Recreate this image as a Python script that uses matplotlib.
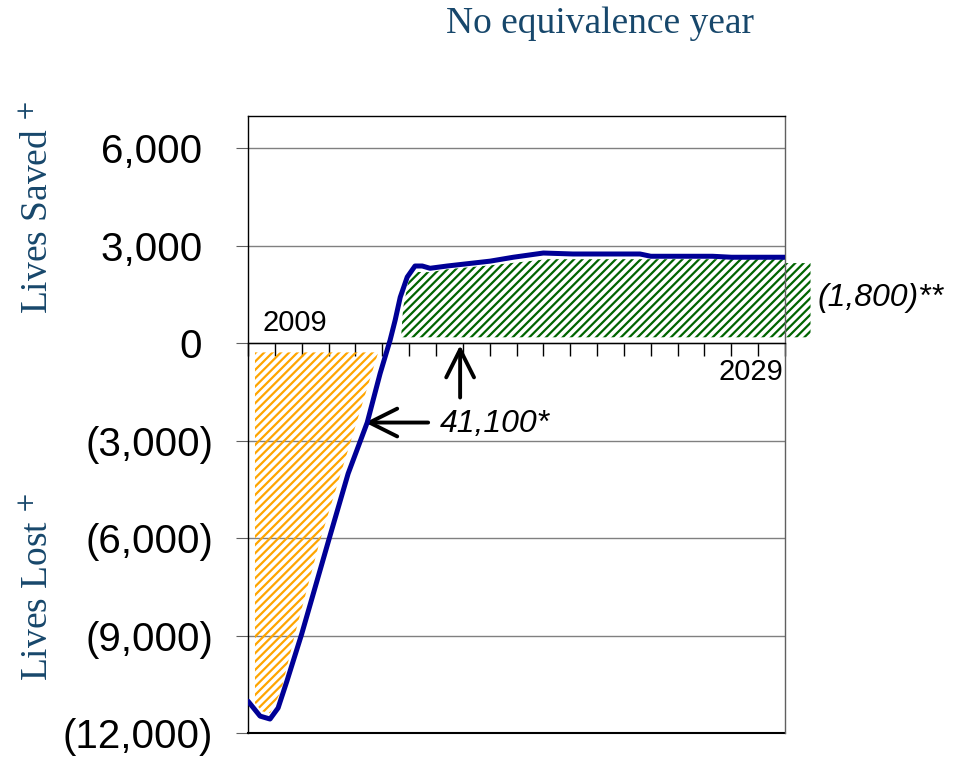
import numpy as np
import matplotlib
matplotlib.use("Agg")
from matplotlib import pyplot as plt
from matplotlib.patches import Polygon

plt.rcParams['font.family'] = ['Liberation Sans', 'DejaVu Sans']
plt.rcParams['mathtext.fontset'] = 'stix'
plt.rcParams['hatch.linewidth'] = 1.6

# net lives per year
years = [2009.0, 2009.45, 2009.82, 2010.12, 2010.45, 2011.0, 2012.0, 2012.73,
         2013.44, 2013.92, 2014.29, 2014.48, 2014.67, 2014.93, 2015.22, 2015.49,
         2015.78, 2016.42, 2018.02, 2018.88, 2020.0, 2021.1, 2023.6, 2024.0,
         2026.3, 2027.0, 2029.0]
lives = [-11020, -11480, -11570, -11230, -10400, -8950, -6080, -4010,
         -2440, -930, 90, 710, 1420, 2040, 2380, 2380,
         2310, 2380, 2530, 2650, 2780, 2750, 2750, 2680,
         2680, 2650, 2650]

# shaded areas
lost_x = [2009.26, 2013.85, 2011.68, 2010.75, 2010.23, 2009.82, 2009.52, 2009.26]
lost_y = [-280, -280, -6080, -8950, -10710, -11390, -11330, -11080]
saved_x = [2014.70, 2014.78, 2014.96, 2015.11, 2015.78, 2016.42, 2018.02, 2020.14,
           2023.61, 2029.0, 2029.0, 2029.95, 2029.95]
saved_y = [185, 1110, 1850, 2200, 2190, 2280, 2400, 2590,
           2590, 2590, 2470, 2470, 185]

yticks = [-12000, -9000, -6000, -3000, 0, 3000, 6000]
# positives keep room for the closing paren, like the spreadsheet format
ytick_labels = ['(12,000)', '(9,000)', '(6,000)', '(3,000)', '0 ', '3,000 ', '6,000 ']
xticks = list(range(2009, 2030))

title_color = '#17476B'

fig = plt.figure(figsize=(9.65, 7.61), dpi=100)
ax = fig.add_axes([0.257, 0.0368, 0.5565, 0.8108])

ax.add_patch(Polygon(np.column_stack([lost_x, lost_y]), closed=True, fill=False,
                     hatch='////', edgecolor='#FFA500', linewidth=0, zorder=2))
ax.add_patch(Polygon(np.column_stack([saved_x, saved_y]), closed=True, fill=False,
                     hatch='////', edgecolor='#006400', linewidth=0, zorder=2,
                     clip_on=False))

ax.plot(years, lives, color='#000096', lw=3.6, zorder=4, solid_capstyle='round',
        solid_joinstyle='round')

ax.set_xlim(2009, 2029)
ax.set_ylim(-12000, 7000)
ax.set_yticks(yticks)
ax.set_yticklabels(ytick_labels)
ax.set_xticks(xticks)
ax.set_xticklabels([])
ax.yaxis.grid(True, color='#808080', lw=1)
ax.set_axisbelow(True)

ax.spines['bottom'].set_position(('data', 0))
for s in ax.spines.values():
    s.set_color('black')
    s.set_linewidth(1)
ax.spines['right'].set_color('#606060')
ax.axhline(-12000, color='black', lw=1.5, clip_on=False)

ax.tick_params(axis='y', direction='out', length=9, pad=16, labelsize=29,
               color='#606060')
ax.tick_params(axis='x', direction='out', length=9, width=1, color='black')

ax.text(2010.75, 617, '2009', ha='center', va='center', fontsize=21)
ax.text(2027.71, -895, '2029', ha='center', va='center', fontsize=21)

ax.annotate('', xy=(2013.36, -2440), xytext=(2015.71, -2440),
            arrowprops=dict(arrowstyle='->', lw=2.8, color='black',
                            mutation_scale=50, shrinkA=0, shrinkB=0))
ax.annotate('', xy=(2016.90, -60), xytext=(2016.90, -1670),
            arrowprops=dict(arrowstyle='->', lw=2.8, color='black',
                            mutation_scale=50, shrinkA=0, shrinkB=0))
ax.text(2016.16, -2470, '41,100*', ha='left', va='center', fontsize=23,
        style='italic')
ax.text(2030.2, 1390, '(1,800)**', ha='left', va='center', fontsize=23,
        style='italic', clip_on=False)

fig.text(600 / 965, 1 - 24 / 761, 'No equivalence year', ha='center', va='center',
         fontsize=27, family='Liberation Serif', color=title_color)
fig.text(38 / 965, 0.7267, r'Lives Saved $^{+}$', rotation=90, ha='center',
         va='center', fontsize=27, family='Liberation Serif', color=title_color)
fig.text(38 / 965, 0.2286, r'Lives Lost $^{+}$', rotation=90, ha='center',
         va='center', fontsize=27, family='Liberation Serif', color=title_color)

fig.savefig('out.png', dpi=100)
